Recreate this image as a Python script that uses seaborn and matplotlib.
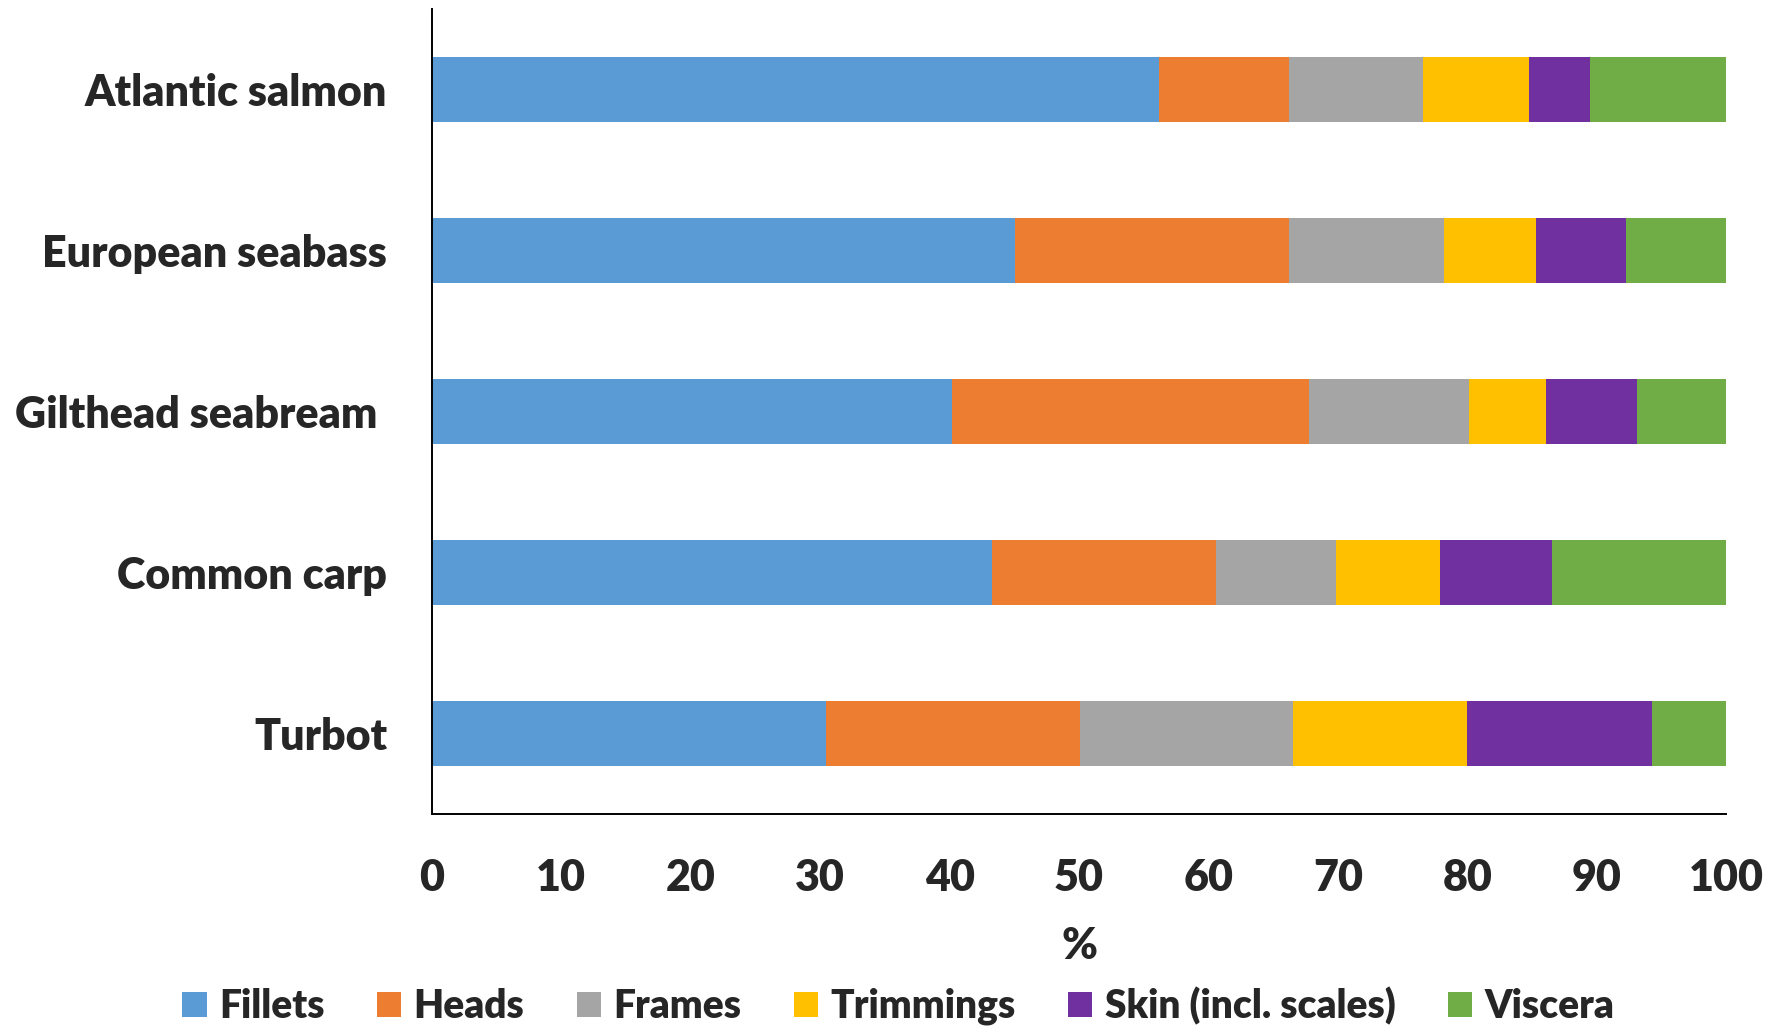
import matplotlib
matplotlib.use("Agg")
import matplotlib.pyplot as plt
from matplotlib.patches import Patch
import seaborn as sns
import numpy as np
import pandas as pd

species = ["Atlantic salmon", "European seabass", "Gilthead seabream ", "Common carp", "Turbot"]
components = ["Fillets", "Heads", "Frames", "Trimmings", "Skin (incl. scales)", "Viscera"]
fillets   = [56.2, 45.05, 40.2, 43.3, 30.45]
heads     = [10.0, 21.2, 27.55, 17.3, 19.65]
frames    = [10.35, 11.9, 12.35, 9.25, 16.4]
trimmings = [8.2, 7.15, 6.0, 8.0, 13.45]
skin      = [4.7, 6.95, 7.0, 8.7, 14.3]
viscera   = [10.6, 7.75, 6.95, 13.45, 5.75]
colors = ["#5B9BD5", "#ED7D31", "#A5A5A5", "#FFC000", "#7030A0", "#70AD47"]
xticks = [0, 10, 20, 30, 40, 50, 60, 70, 80, 90, 100]

sns.set_theme(style="white")
plt.rcParams["font.family"] = ["Lato", "DejaVu Sans"]
W = "heavy"

series = [fillets, heads, frames, trimmings, skin, viscera]
cum = np.cumsum(np.array(series), axis=0)
df = pd.DataFrame({"species": species})

fig = plt.figure(figsize=(17.72, 10.35), dpi=100)
ax = fig.add_axes([0.2436, 0.2135, 0.7307, 0.7778])

for i in range(len(components) - 1, -1, -1):
    df["val"] = cum[i]
    sns.barplot(data=df, x="val", y="species", color=colors[i], width=0.4,
                linewidth=0, saturation=1, ax=ax, orient="h")

ax.set_xlim(0, 100)
ax.set_ylim(4.5, -0.5)
ax.set_xticks(xticks)
ax.set_xticklabels([str(t) for t in xticks], fontsize=31, fontweight=W)
ax.set_yticks(range(len(species)))
ax.set_yticklabels(species, fontsize=31, fontweight=W)
ax.tick_params(axis="x", length=0, pad=32)
ax.tick_params(axis="y", length=0, pad=32)
ax.set_xlabel("%", fontsize=31, fontweight=W, labelpad=20)
ax.set_ylabel("")
for s in ["top", "right"]:
    ax.spines[s].set_visible(False)
for s in ["left", "bottom"]:
    ax.spines[s].set_color("black")
    ax.spines[s].set_linewidth(1.4)

handles = [Patch(facecolor=c, edgecolor="none") for c in colors]
fig.legend(handles, components, loc="center", bbox_to_anchor=(0.507, 0.028), ncol=6,
           frameon=False, prop={"size": 28, "weight": W},
           handlelength=0.62, handleheight=0.62, handletextpad=0.32, columnspacing=1.35)

fig.savefig("out.png", dpi=100)
